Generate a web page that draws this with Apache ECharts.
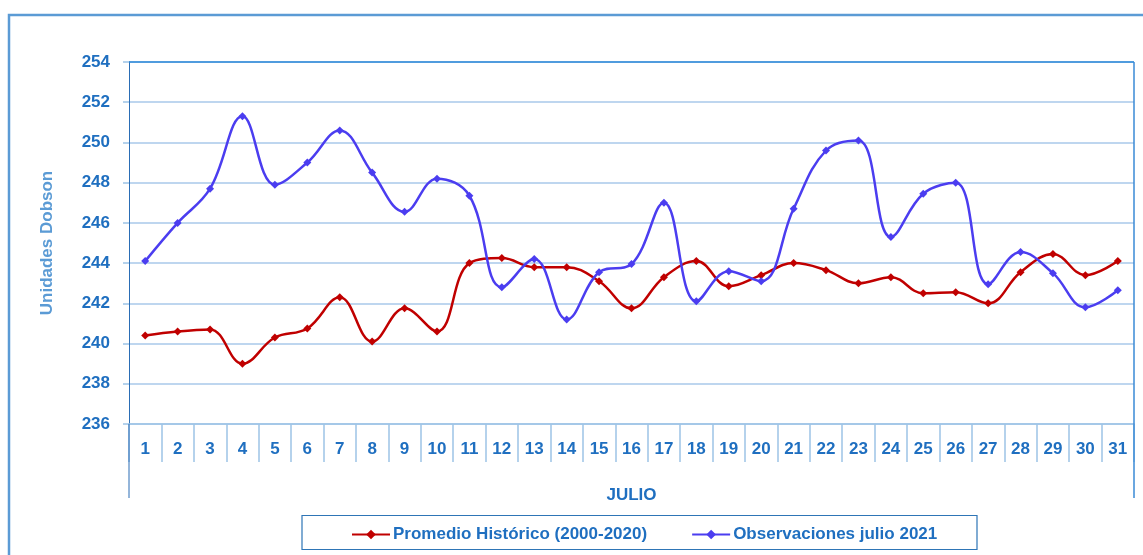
<!DOCTYPE html>
<html>
<head>
<meta charset="utf-8">
<script src="https://cdn.jsdelivr.net/npm/echarts@6/dist/echarts.min.js"></script>
<style>
html,body{margin:0;padding:0;background:#fff;}
#chart{width:1143px;height:555px;}
</style>
</head>
<body>
<div id="chart"></div>
<script>
var categories = ['1','2','3','4','5','6','7','8','9','10','11','12','13','14','15','16','17','18','19','20','21','22','23','24','25','26','27','28','29','30','31'];
var promedioHistorico = [240.4,240.6,240.7,239.0,240.3,240.75,242.3,240.1,241.75,240.6,244.0,244.25,243.8,243.8,243.1,241.75,243.3,244.1,242.85,243.4,244.0,243.65,243.0,243.3,242.5,242.55,242.0,243.55,244.45,243.4,244.1];
var observaciones2021 = [244.1,246.0,247.7,251.3,247.9,249.0,250.6,248.5,246.55,248.2,247.35,242.8,244.2,241.2,243.55,243.95,247.0,242.1,243.6,243.1,246.7,249.6,250.1,245.3,247.45,248.0,242.95,244.55,243.5,241.8,242.65];
var seriesNames = ['Promedio Histórico (2000-2020)','Observaciones julio 2021'];
var xAxisTitle = 'JULIO';
var yAxisTitle = 'Unidades Dobson';

var FONT = '"Liberation Sans", Arial, sans-serif';
var labelBlue = '#1f6fc0';
var chart = echarts.init(document.getElementById('chart'), null, {renderer:'canvas'});
chart.setOption({
  animation:false,
  backgroundColor:'#ffffff',
  textStyle:{fontFamily:FONT},
  grid:{left:129, right:9, top:62, bottom:131, containLabel:false},
  xAxis:{
    type:'category', data:categories, boundaryGap:true,
    name:xAxisTitle, nameLocation:'middle', nameGap:63,
    nameTextStyle:{color:labelBlue, fontWeight:'bold', fontSize:17, fontFamily:FONT},
    axisLine:{show:true, lineStyle:{color:'#9dc3e6', width:1.5}},
    axisTick:{show:true, interval:0, length:38, lineStyle:{color:'#9dc3e6', width:1.5}},
    axisLabel:{interval:0, margin:17, color:labelBlue, fontWeight:'bold', fontSize:17, fontFamily:FONT},
    splitLine:{show:false}
  },
  yAxis:{
    type:'value', min:236, max:254, interval:2,
    name:yAxisTitle, nameLocation:'middle', nameGap:73,
    nameTextStyle:{color:'#5b9bd5', fontWeight:'bold', fontSize:17, fontFamily:FONT},
    axisLine:{show:true, lineStyle:{color:'#2a6db5', width:1}},
    axisTick:{show:true, length:6, lineStyle:{color:'#9dc3e6', width:1.5}},
    axisLabel:{margin:19, color:labelBlue, fontWeight:'bold', fontSize:17, fontFamily:FONT},
    splitLine:{show:true, lineStyle:{color:'#a9c9ea', width:1.5}}
  },
  legend:{
    left:346, top:521, itemWidth:38, itemHeight:12, itemGap:44,
    textStyle:{color:labelBlue, fontWeight:'bold', fontSize:17, fontFamily:FONT, padding:[0,0,0,-2]},
    data:seriesNames
  },
  series:[
    {name:seriesNames[0], type:'line', data:promedioHistorico, smooth:0.4,
     symbol:'diamond', symbolSize:8, showSymbol:true,
     lineStyle:{color:'#c00000', width:2.5}, itemStyle:{color:'#c00000'}},
    {name:seriesNames[1], type:'line', data:observaciones2021, smooth:0.4,
     symbol:'diamond', symbolSize:8, showSymbol:true,
     lineStyle:{color:'#4b3df0', width:2.5}, itemStyle:{color:'#4b3df0'}}
  ],
  graphic:[
    {type:'rect', shape:{x:9, y:15, width:1300, height:700}, style:{fill:null, stroke:'#5b9bd5', lineWidth:2.5}, silent:true, z:-10},
    {type:'line', shape:{x1:129, y1:62, x2:1134, y2:62}, style:{stroke:'#2b88d8', lineWidth:1.5}, silent:true, z:10},
    {type:'line', shape:{x1:1134, y1:62, x2:1134, y2:498}, style:{stroke:'#3a8ad6', lineWidth:1.5}, silent:true, z:10},
    {type:'line', shape:{x1:129, y1:424, x2:129, y2:498}, style:{stroke:'#2a6db5', lineWidth:1}, silent:true, z:10},
    {type:'rect', shape:{x:302, y:515.5, width:675, height:34}, style:{fill:null, stroke:'#2e75b6', lineWidth:1.2}, silent:true, z:-5}
  ]
});
</script>
</body>
</html>
